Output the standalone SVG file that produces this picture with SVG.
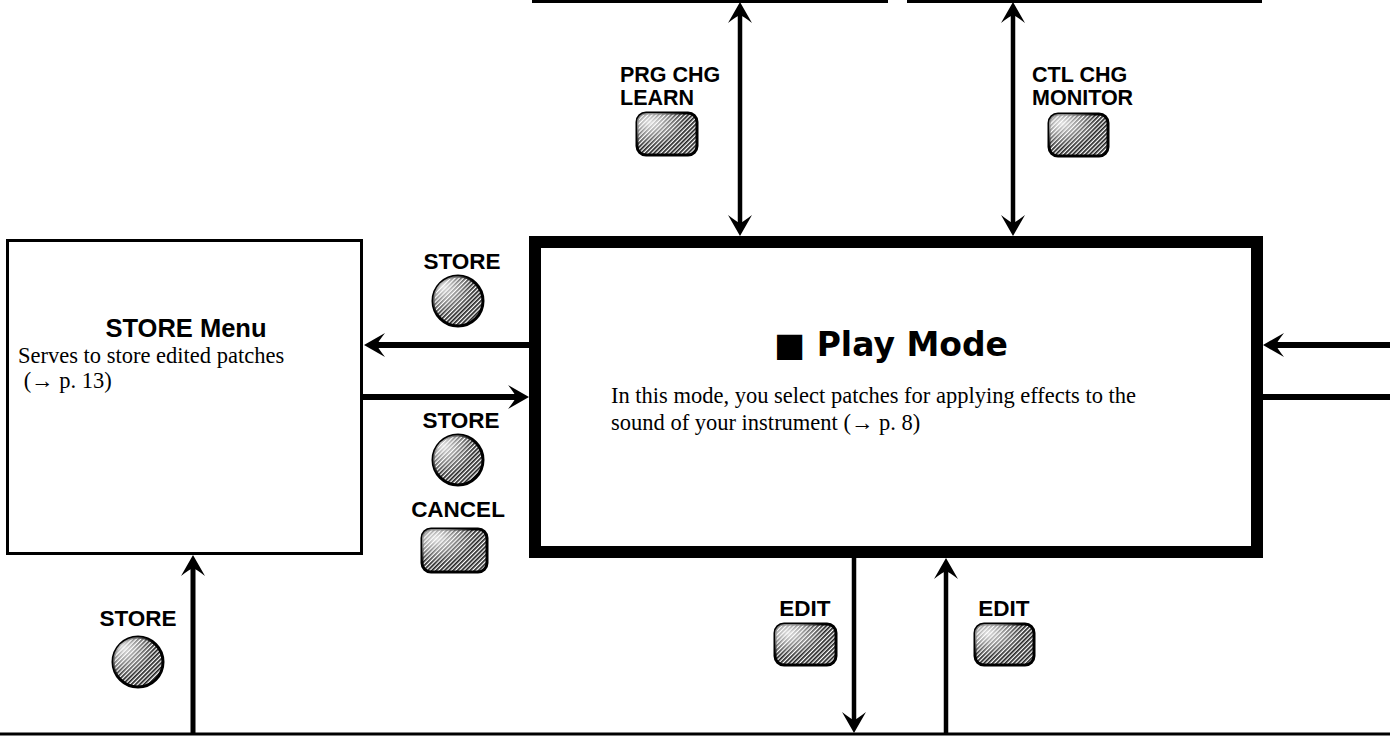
<svg xmlns="http://www.w3.org/2000/svg" width="1400" height="737" viewBox="0 0 1400 737">
<style>
.lbl{font-family:"Liberation Sans",Arial,sans-serif;font-weight:bold;font-size:22.5px;fill:#000}
.lbs{font-family:"Liberation Sans",Arial,sans-serif;font-weight:bold;font-size:21.5px;fill:#000}
.body{font-family:"Liberation Serif","Times New Roman",serif;font-size:22.5px;fill:#000}
.title{font-family:"Liberation Sans",Arial,sans-serif;font-weight:bold;font-size:25.5px;fill:#000}
.big{font-family:"DejaVu Sans",sans-serif;font-weight:bold;font-size:33px;fill:#000}
.btn{fill:url(#hatch);stroke:#000;stroke-width:3}
.hl{fill:url(#shine);stroke:none}
.ln{fill:none;stroke:#000}
.box{fill:#fff;stroke:#000}
</style>
<defs>
<pattern id="hatch" patternUnits="userSpaceOnUse" width="3" height="3" patternTransform="rotate(45)">
<rect width="3" height="3" fill="#fff"/>
<rect width="1.7" height="3" fill="#222"/>
</pattern>
<radialGradient id="shine" cx="0.22" cy="0.22" r="0.6">
<stop offset="0" stop-color="#fff" stop-opacity="0.85"/>
<stop offset="1" stop-color="#fff" stop-opacity="0"/>
</radialGradient>
<marker id="ah" markerUnits="userSpaceOnUse" orient="auto-start-reverse" overflow="visible" refX="0" refY="0" markerWidth="1" markerHeight="1">
<path d="M13,0 L-8,-12 Q-1,-3 0,0 Q-1,3 -8,12 Z" fill="#000"/>
</marker>
</defs>
<rect width="1400" height="737" fill="#fff"/>

<g id="frame-lines">
<line class="ln" x1="532" y1="1.5" x2="888" y2="1.5" stroke-width="3"/>
<line class="ln" x1="907" y1="1.5" x2="1262" y2="1.5" stroke-width="3"/>
<line class="ln" x1="0" y1="734" x2="1390" y2="734" stroke-width="3"/>
</g>

<g id="connectors">
<line class="ln" x1="740" y1="15" x2="740" y2="223" stroke-width="4.5" marker-start="url(#ah)" marker-end="url(#ah)"/>
<line class="ln" x1="1013" y1="15" x2="1013" y2="223" stroke-width="4.5" marker-start="url(#ah)" marker-end="url(#ah)"/>
<line class="ln" x1="529" y1="345" x2="377" y2="345" stroke-width="6" marker-end="url(#ah)"/>
<line class="ln" x1="362" y1="397" x2="516" y2="397" stroke-width="6" marker-end="url(#ah)"/>
<line class="ln" x1="1390" y1="345" x2="1276" y2="345" stroke-width="6" marker-end="url(#ah)"/>
<line class="ln" x1="1263" y1="397" x2="1390" y2="397" stroke-width="6"/>
<line class="ln" x1="193" y1="734" x2="193" y2="568" stroke-width="5" marker-end="url(#ah)"/>
<line class="ln" x1="854" y1="558" x2="854" y2="720" stroke-width="4.5" marker-end="url(#ah)"/>
<line class="ln" x1="946" y1="734" x2="946" y2="571" stroke-width="4.5" marker-end="url(#ah)"/>
</g>

<g id="store-menu">
<rect class="box" x="7.5" y="240.5" width="354" height="313" stroke-width="3"/>
<text class="title" x="186" y="337" text-anchor="middle">STORE Menu</text>
<text class="body" x="18" y="363">Serves to store edited patches</text>
<text class="body" x="18" y="388" xml:space="preserve"> (→ p. 13)</text>
</g>

<g id="play-mode">
<rect class="box" x="535" y="242" width="722" height="310" stroke-width="12"/>
<text class="big" x="774" y="356">■ Play Mode</text>
<text class="body" x="611" y="403">In this mode, you select patches for applying effects to the</text>
<text class="body" x="611" y="430">sound of your instrument (→ p. 8)</text>
</g>

<g id="btn-prg-chg">
<text class="lbs" x="620" y="82">PRG CHG</text>
<text class="lbs" x="620" y="105">LEARN</text>
<rect class="btn" x="637" y="113" width="60" height="42" rx="9"/>
<rect class="hl" x="637" y="113" width="60" height="42" rx="9"/>
</g>

<g id="btn-ctl-chg">
<text class="lbs" x="1032" y="82">CTL CHG</text>
<text class="lbs" x="1032" y="105">MONITOR</text>
<rect class="btn" x="1049" y="114" width="59" height="42" rx="9"/>
<rect class="hl" x="1049" y="114" width="59" height="42" rx="9"/>
</g>

<g id="btn-store-out">
<text class="lbl" x="462" y="269" text-anchor="middle">STORE</text>
<circle class="btn" cx="458" cy="301" r="25"/>
<circle class="hl" cx="458" cy="301" r="25"/>
</g>

<g id="btn-store-in">
<text class="lbl" x="461" y="428" text-anchor="middle">STORE</text>
<circle class="btn" cx="458" cy="460" r="25"/>
<circle class="hl" cx="458" cy="460" r="25"/>
</g>

<g id="btn-cancel">
<text class="lbl" x="458" y="517" text-anchor="middle">CANCEL</text>
<rect class="btn" x="422" y="529" width="65" height="43" rx="9"/>
<rect class="hl" x="422" y="529" width="65" height="43" rx="9"/>
</g>

<g id="btn-store-bottom">
<text class="lbl" x="138" y="626" text-anchor="middle">STORE</text>
<circle class="btn" cx="138" cy="662" r="25"/>
<circle class="hl" cx="138" cy="662" r="25"/>
</g>

<g id="btn-edit-out">
<text class="lbl" x="805" y="616" text-anchor="middle">EDIT</text>
<rect class="btn" x="775" y="624" width="61" height="41" rx="9"/>
<rect class="hl" x="775" y="624" width="61" height="41" rx="9"/>
</g>

<g id="btn-edit-in">
<text class="lbl" x="1004" y="616" text-anchor="middle">EDIT</text>
<rect class="btn" x="975" y="624" width="59" height="41" rx="9"/>
<rect class="hl" x="975" y="624" width="59" height="41" rx="9"/>
</g>
</svg>
